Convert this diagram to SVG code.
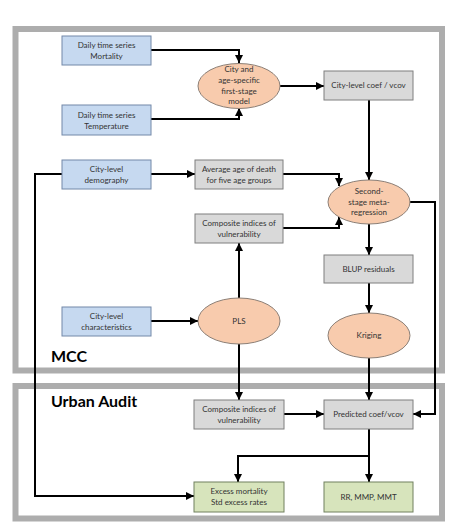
<svg xmlns="http://www.w3.org/2000/svg" width="449" height="529" viewBox="0 0 449 529">
<defs>
<marker id="ah" viewBox="0 0 8 8" refX="8" refY="4" markerWidth="4" markerHeight="4" orient="auto" markerUnits="strokeWidth">
<path d="M0,0 L8,4 L0,8 z" fill="#000"/>
</marker>
<style>
.frame{fill:none;stroke:#adadad;stroke-width:6}
.blue{fill:#c6d9f0;stroke:#7388a8;stroke-width:1}
.gray{fill:#d9d9d9;stroke:#7f7f7f;stroke-width:1}
.green{fill:#d7e4bc;stroke:#70805f;stroke-width:1}
.oval{fill:#f8cbad;stroke:#8c7f76;stroke-width:1}
text{font-family:Lato,"Open Sans","Liberation Sans",sans-serif;font-size:8px;fill:#333;text-anchor:middle}
.title{font-size:16px;font-weight:bold;fill:#000;text-anchor:start}
.c{fill:none;stroke:#000;stroke-width:2}
</style>
</defs>
<rect id="mcc-frame" class="frame" x="15.5" y="29" width="426.5" height="341.5"/>
<rect id="ua-frame" class="frame" x="15.5" y="386" width="426.5" height="132.5"/>
<text class="title" x="51" y="362">MCC</text>
<text class="title" x="51" y="407">Urban Audit</text>

<g id="connectors">
<polyline class="c" points="151,50 239,50 239,63" marker-end="url(#ah)"/>
<polyline class="c" points="151,119 239,119 239,108" marker-end="url(#ah)"/>
<line class="c" x1="280" y1="86" x2="324" y2="86" marker-end="url(#ah)"/>
<line class="c" x1="369" y1="100" x2="369" y2="180" marker-end="url(#ah)"/>
<line class="c" x1="151" y1="174" x2="195" y2="174" marker-end="url(#ah)"/>
<polyline class="c" points="283,174 339,174 339,186" marker-end="url(#ah)"/>
<polyline class="c" points="283,228 339,228 339,217" marker-end="url(#ah)"/>
<polyline class="c" points="409,202 435,202 435,414 413,414" marker-end="url(#ah)"/>
<line class="c" x1="369" y1="224" x2="369" y2="255" marker-end="url(#ah)"/>
<line class="c" x1="369" y1="283" x2="369" y2="313" marker-end="url(#ah)"/>
<line class="c" x1="369" y1="358" x2="369" y2="400" marker-end="url(#ah)"/>
<line class="c" x1="239" y1="298" x2="239" y2="243" marker-end="url(#ah)"/>
<line class="c" x1="239" y1="344" x2="239" y2="400" marker-end="url(#ah)"/>
<line class="c" x1="151" y1="321" x2="198" y2="321" marker-end="url(#ah)"/>
<polyline class="c" points="62,174 35,174 35,496 194,496" marker-end="url(#ah)"/>
<line class="c" x1="284" y1="414" x2="324" y2="414" marker-end="url(#ah)"/>
<polyline class="c" points="369,429 369,456 238,456 238,482" marker-end="url(#ah)"/>
<line class="c" x1="369" y1="455" x2="369" y2="482" marker-end="url(#ah)"/>
</g>

<g id="mortality"><rect class="blue" x="62" y="36" width="89" height="29"/><text x="106.5" y="48">Daily time series</text><text x="106.5" y="59">Mortality</text></g>
<g id="temperature"><rect class="blue" x="62" y="105" width="89" height="30"/><text x="106.5" y="118">Daily time series</text><text x="106.5" y="129">Temperature</text></g>
<g id="demography"><rect class="blue" x="62" y="160" width="89" height="29"/><text x="106.5" y="172">City-level</text><text x="106.5" y="183">demography</text></g>
<g id="characteristics"><rect class="blue" x="62" y="307" width="89" height="29"/><text x="106.5" y="319">City-level</text><text x="106.5" y="330">characteristics</text></g>

<g id="first-stage"><ellipse class="oval" cx="239" cy="86" rx="41" ry="22.5"/><text x="239" y="72">City and</text><text x="239" y="83">age-specific</text><text x="239" y="94">first-stage</text><text x="239" y="104">model</text></g>
<g id="coef"><rect class="gray" x="324" y="71" width="89" height="29"/><text x="368.5" y="88">City-level coef / vcov</text></g>
<g id="avg-age"><rect class="gray" x="195" y="160" width="88" height="29"/><text x="239" y="172">Average age of death</text><text x="239" y="183">for five age groups</text></g>
<g id="second-stage"><ellipse class="oval" cx="369" cy="202" rx="41" ry="22"/><text x="369" y="194">Second-</text><text x="369" y="205">stage meta-</text><text x="369" y="215">regression</text></g>
<g id="composite-mcc"><rect class="gray" x="195" y="214" width="88" height="29"/><text x="239" y="226">Composite indices of</text><text x="239" y="237">vulnerability</text></g>
<g id="blup"><rect class="gray" x="324" y="255" width="89" height="28"/><text x="368.5" y="272">BLUP residuals</text></g>
<g id="pls"><ellipse class="oval" cx="239" cy="321" rx="41" ry="23"/><text x="239" y="324">PLS</text></g>
<g id="kriging"><ellipse class="oval" cx="369" cy="335.5" rx="41" ry="22.5"/><text x="369" y="338">Kriging</text></g>
<g id="composite-ua"><rect class="gray" x="194" y="400" width="90" height="29"/><text x="239" y="412">Composite indices of</text><text x="239" y="423">vulnerability</text></g>
<g id="predicted"><rect class="gray" x="324" y="400" width="89" height="29"/><text x="368.5" y="417">Predicted coef/vcov</text></g>
<g id="excess"><rect class="green" x="194" y="482" width="90" height="30"/><text x="239" y="494">Excess mortality</text><text x="239" y="505">Std excess rates</text></g>
<g id="rr"><rect class="green" x="324" y="482" width="89" height="30"/><text x="368.5" y="500">RR, MMP, MMT</text></g>
</svg>
